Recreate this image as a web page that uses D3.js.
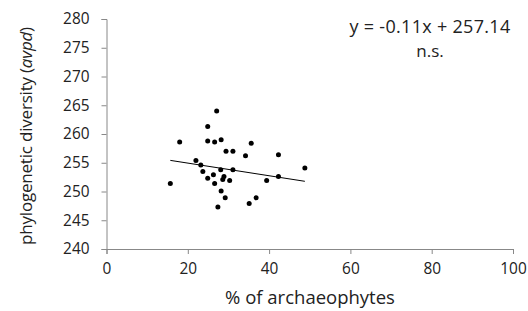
<!DOCTYPE html>
<html>
<head>
<meta charset="utf-8">
<script src="https://cdn.jsdelivr.net/npm/d3@7"></script>
<style>
  body { margin: 0; background: #fff; }
  text { font-family: "Open Sans", sans-serif; fill: #222; }
</style>
</head>
<body>
<svg id="chart" width="528" height="311"></svg>
<script>
// % archaeophytes vs. avpd
const archaeophytes = [15.7, 18.0, 22.0, 23.2, 23.7, 24.9, 24.9, 24.9, 26.6, 27.1, 26.3,
  26.6, 27.4, 28.2, 28.1, 28.2, 29.4, 31.1, 28.9, 28.6, 29.2, 30.3, 31.1, 34.2, 35.6,
  35.1, 36.8, 39.4, 42.3, 42.3, 48.8];
const avpd = [251.4, 258.6, 255.4, 254.6, 253.5, 261.3, 258.8, 252.3, 258.6, 264.0, 252.9,
  251.4, 247.3, 259.0, 253.8, 250.1, 257.0, 257.0, 252.6, 252.1, 248.9, 251.9, 253.8, 256.2, 258.4,
  247.9, 248.9, 251.9, 256.4, 252.6, 254.1];
const xTicks = [0, 20, 40, 60, 80, 100];
const yTicks = [240, 245, 250, 255, 260, 265, 270, 275, 280];
const slope = -0.11, intercept = 257.14;

const svg = d3.select("#chart");
const x = d3.scaleLinear().domain([0, 100]).range([106.5, 513]);
const y = d3.scaleLinear().domain([240, 280]).range([249, 19]);

// axes
const xAxis = svg.append("g")
  .attr("transform", "translate(0," + y(240) + ")")
  .call(d3.axisBottom(x).tickValues(xTicks).tickSize(5).tickPadding(9));
const yAxis = svg.append("g")
  .attr("transform", "translate(" + x(0) + ",0)")
  .call(d3.axisLeft(y).tickValues(yTicks).tickSize(5).tickPadding(12));
[xAxis, yAxis].forEach(function (a) {
  a.select(".domain").attr("stroke", "#888");
  a.selectAll(".tick line").attr("stroke", "#888");
  a.selectAll(".tick text").style("font-size", "15.4px").attr("fill", "#222");
});

// points
const pts = d3.zip(archaeophytes, avpd);
svg.append("g").selectAll("circle").data(pts).enter().append("circle")
  .attr("cx", function (d) { return x(d[0]); })
  .attr("cy", function (d) { return y(d[1]); })
  .attr("r", 2.5)
  .attr("fill", "#000");

// trend line
const xMin = d3.min(archaeophytes), xMax = d3.max(archaeophytes);
svg.append("line")
  .attr("x1", x(xMin)).attr("y1", y(slope * xMin + intercept))
  .attr("x2", x(xMax)).attr("y2", y(slope * xMax + intercept))
  .attr("stroke", "#000").attr("stroke-width", 1);

// labels
svg.append("text").attr("x", 430).attr("y", 33).attr("text-anchor", "middle")
  .style("font-size", "18px").style("letter-spacing", "0.3px").text("y = -0.11x + 257.14");
svg.append("text").attr("x", 430).attr("y", 57).attr("text-anchor", "middle")
  .style("font-size", "17px").text("n.s.");
svg.append("text").attr("x", 310).attr("y", 304).attr("text-anchor", "middle")
  .style("font-size", "18.5px").text("% of archaeophytes");
const yt = svg.append("text").attr("transform", "translate(32,136)rotate(-90)")
  .attr("text-anchor", "middle").style("font-size", "17px").style("letter-spacing", "-0.2px");
yt.append("tspan").text("phylogenetic diversity (");
yt.append("tspan").style("font-style", "italic").text("avpd");
yt.append("tspan").text(")");
</script>
</body>
</html>
